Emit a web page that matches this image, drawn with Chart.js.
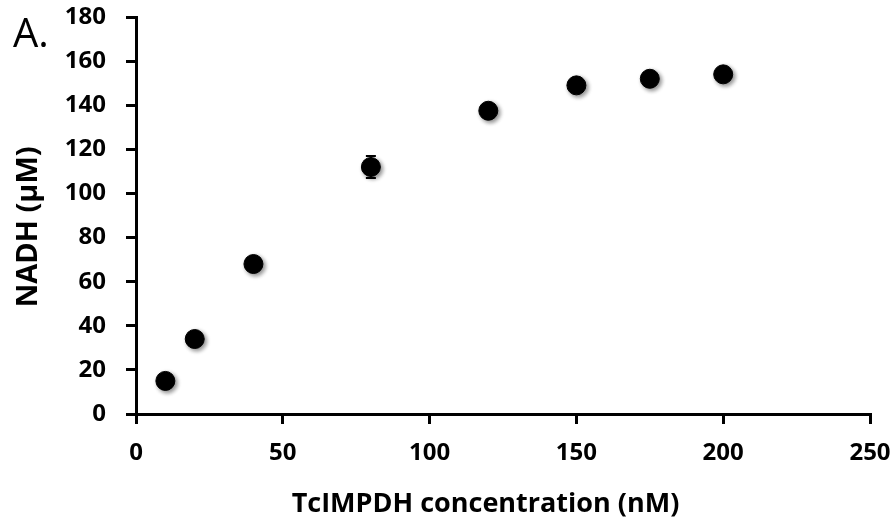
<!DOCTYPE html>
<html>
<head>
<meta charset="utf-8">
<script src="https://cdn.jsdelivr.net/npm/chart.js@4/dist/chart.umd.min.js"></script>
<style>
  html, body { margin: 0; padding: 0; background: #fff; }
  #wrap { width: 895px; height: 528px; }
</style>
</head>
<body>
<div id="wrap"><canvas id="scatter-chart"></canvas></div>
<script>
// TcIMPDH concentration (nM) vs NADH (uM)
var concList = [10, 20, 40, 80, 120, 150, 175, 200];
var nadhList = [15, 34, 68, 112, 137.5, 149, 152, 154];
var errList = [1, 1.5, 2, 5, 2, 2, 2, 2];

var FONT = '"Open Sans", "DejaVu Sans", sans-serif';

// error bars, drawn under the markers
var errorBars = {
    id: 'errorBars',
    beforeDatasetsDraw: function (chart) {
        var ctx = chart.ctx, x = chart.scales.x, y = chart.scales.y;
        ctx.save();
        ctx.strokeStyle = '#000';
        ctx.lineWidth = 2;
        for (var i = 0; i < concList.length; i++) {
            var px = x.getPixelForValue(concList[i]);
            var top = y.getPixelForValue(nadhList[i] + errList[i]);
            var bot = y.getPixelForValue(nadhList[i] - errList[i]);
            ctx.beginPath();
            ctx.moveTo(px, top); ctx.lineTo(px, bot);
            ctx.moveTo(px - 5, top); ctx.lineTo(px + 5, top);
            ctx.moveTo(px - 5, bot); ctx.lineTo(px + 5, bot);
            ctx.stroke();
        }
        ctx.restore();
    }
};

// soft drop shadow on markers
var shadow = {
    id: 'shadow',
    beforeDatasetDraw: function (chart) {
        var ctx = chart.ctx;
        ctx.save();
        ctx.shadowColor = 'rgba(0,0,0,0.45)';
        ctx.shadowBlur = 4;
        ctx.shadowOffsetX = 2;
        ctx.shadowOffsetY = 2;
    },
    afterDatasetDraw: function (chart) {
        chart.ctx.restore();
    }
};

// panel letter
var panelLabel = {
    id: 'panelLabel',
    afterDraw: function (chart) {
        var ctx = chart.ctx;
        ctx.save();
        ctx.fillStyle = '#000';
        ctx.font = '40px ' + FONT;
        ctx.textBaseline = 'alphabetic';
        ctx.textAlign = 'left';
        ctx.fillText('A.', 13, 47);
        ctx.restore();
    }
};

new Chart(document.getElementById('scatter-chart'), {
    type: 'scatter',
    data: {
        datasets: [
            {
                label: 'NADH',
                data: concList.map(function (c, i) { return {x: c, y: nadhList[i]}; }),
                backgroundColor: '#000',
                borderColor: '#000',
                pointRadius: 9.5,
                pointHoverRadius: 9.5
            }
        ]
    },
    options: {
        responsive: true,
        maintainAspectRatio: false,
        animation: false,
        layout: {padding: {left: 0, right: 25, top: 17, bottom: 0}},
        plugins: {
            legend: {display: false},
            tooltip: {enabled: false}
        },
        scales: {
            x: {
                type: 'linear',
                min: 0,
                max: 250,
                ticks: {stepSize: 50, color: '#000', padding: 15, font: {family: FONT, size: 24, weight: 'bold'}},
                grid: {drawOnChartArea: false, drawTicks: true, tickLength: 10, color: '#000', lineWidth: 3},
                border: {color: '#000', width: 3},
                title: {display: true, text: 'TcIMPDH concentration (nM)\u00a0\u00a0\u00a0\u00a0\u00a0', color: '#000',
                        padding: {top: 0, bottom: 7},
                        font: {family: FONT, size: 27, weight: 'bold'}},
                afterFit: function (scale) {
                    scale.height = 114;
                    scale.paddingLeft = 0;
                    scale.paddingRight = 0;
                }
            },
            y: {
                min: 0,
                max: 180,
                ticks: {stepSize: 20, color: '#000', padding: 20, font: {family: FONT, size: 24, weight: 'bold'}},
                grid: {drawOnChartArea: false, drawTicks: true, tickLength: 10, color: '#000', lineWidth: 3},
                border: {color: '#000', width: 3},
                title: {display: true, text: 'NADH (µM)\u00a0\u00a0\u00a0', color: '#000', padding: {top: 11, bottom: 0},
                        font: {family: FONT, size: 29, weight: 'bold'}},
                afterFit: function (scale) {
                    scale.width = 136;
                    scale.paddingTop = 0;
                    scale.paddingBottom = 0;
                }
            }
        }
    },
    plugins: [errorBars, shadow, panelLabel]
});
</script>
</body>
</html>
